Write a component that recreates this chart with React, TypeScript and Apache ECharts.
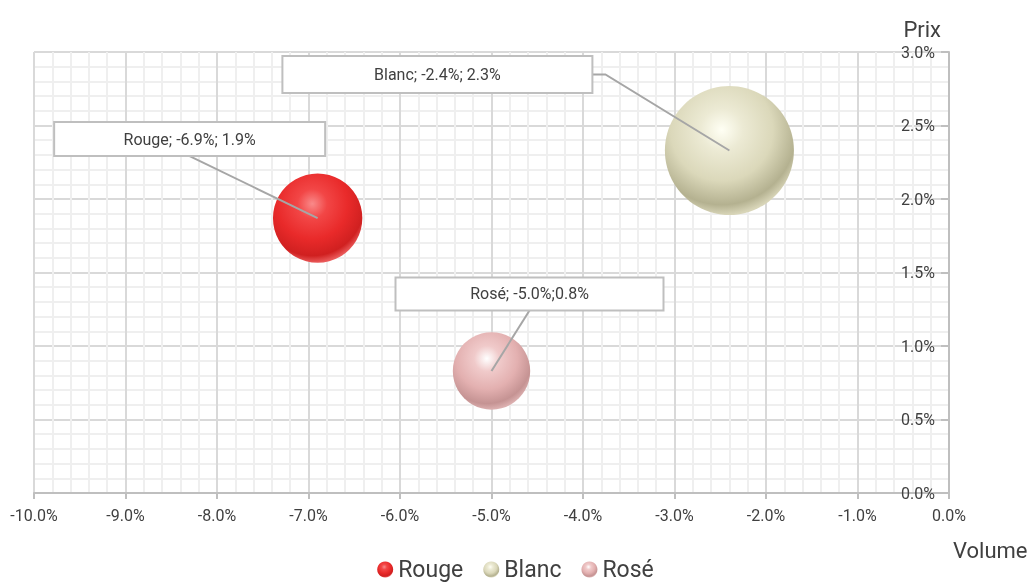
import React, { useEffect, useRef } from "react";
import * as echarts from "echarts";

const categories = ["Rouge", "Blanc", "Rosé"];
const volume = [-6.9, -2.4, -5.0];
const prix = [1.87, 2.33, 0.83];
const marketSize = [48, 100, 36];
const labelTexts = ["Rouge; -6.9%; 1.9%", "Blanc; -2.4%; 2.3%", "Rosé; -5.0%;0.8%"];

const FONT = "Roboto, 'Liberation Sans', sans-serif";

const gradients = [
  ["#f98a8a", "#f24646", "#e92a2a", "#d02020", "#ea5a5a"],
  ["#fffff4", "#ecead4", "#dbd8ba", "#b4b190", "#d8d5b8"],
  ["#ffffff", "#f0caca", "#e3b0b0", "#c59393", "#dcb0b0"],
];

// callout layout: box center offset from bubble center, box size, leader type
const callouts = [
  { dx: -128, dy: -79, w: 271, h: 34, leader: "bottom" },
  { dx: -292, dy: -76, w: 310, h: 37, leader: "right" },
  { dx: 38, dy: -77, w: 268, h: 33, leader: "bottom" },
];

const MAX_DIAM = 129;

function grad(i: number) {
  const g = gradients[i];
  return {
    type: "radial",
    x: 0.44,
    y: 0.34,
    r: 0.66,
    colorStops: [
      { offset: 0, color: g[0] },
      { offset: 0.25, color: g[1] },
      { offset: 0.6, color: g[2] },
      { offset: 0.88, color: g[3] },
      { offset: 1, color: g[4] },
    ],
  };
}

export default function App() {
  const ref = useRef<HTMLDivElement>(null);
  useEffect(() => {
    if (!ref.current) return;
    const chart = echarts.init(ref.current, null, { renderer: "svg" });
    const scatterSeries = categories.map((name, i) => ({
      name,
      type: "scatter",
      data: [[volume[i], prix[i], marketSize[i]]],
      symbolSize: (v: number[]) => MAX_DIAM * Math.sqrt(v[2] / 100),
      itemStyle: { color: grad(i), opacity: 1 },
      z: 3,
    }));
    const calloutSeries = {
      type: "custom",
      name: "callouts",
      coordinateSystem: "cartesian2d",
      z: 5,
      clip: false,
      data: categories.map((_, i) => [volume[i], prix[i], i]),
      renderItem: (params: any, api: any) => {
        const i = api.value(2);
        const c = api.coord([api.value(0), api.value(1)]);
        const co = callouts[i];
        const bx = c[0] + co.dx;
        const by = c[1] + co.dy;
        let pts: number[][];
        if (co.leader === "right") {
          pts = [
            [bx + co.w / 2, by],
            [bx + co.w / 2 + 13, by],
            [c[0], c[1]],
          ];
        } else {
          pts = [
            [bx, by + co.h / 2],
            [c[0], c[1]],
          ];
        }
        return {
          type: "group",
          children: [
            {
              type: "polyline",
              shape: { points: pts },
              style: { stroke: "#a6a6a6", lineWidth: 2, fill: null },
            },
            {
              type: "rect",
              shape: { x: bx - co.w / 2, y: by - co.h / 2, width: co.w, height: co.h },
              style: { fill: "#ffffff", stroke: "#bfbfbf", lineWidth: 2 },
            },
            {
              type: "text",
              x: bx,
              y: by,
              style: {
                text: labelTexts[i],
                fill: "#404040",
                fontSize: 16,
                fontFamily: FONT,
                align: "center",
                verticalAlign: "middle",
              },
            },
          ],
        };
      },
    };
    chart.setOption({
      animation: false,
      textStyle: { fontFamily: FONT },
      grid: { left: 34, right: 82, top: 52, bottom: 93 },
      legend: {
        data: categories,
        bottom: 0,
        left: "center",
        icon: "circle",
        itemWidth: 16,
        itemHeight: 16,
        itemGap: 20,
        textStyle: { fontSize: 23, color: "#404040", fontFamily: FONT },
      },
      xAxis: {
        type: "value",
        min: -10,
        max: 0,
        interval: 1,
        name: "Volume",
        nameLocation: "end",
        nameGap: 4,
        nameTextStyle: {
          fontSize: 22,
          color: "#404040",
          align: "left",
          verticalAlign: "top",
          padding: [46, 0, 0, 0],
          fontFamily: FONT,
        },
        axisLine: { show: true, onZero: false, lineStyle: { color: "#bfbfbf", width: 2 } },
        axisTick: { show: true, length: 6, lineStyle: { color: "#bfbfbf", width: 2 } },
        axisLabel: {
          formatter: (v: number) => v.toFixed(1) + "%",
          fontSize: 16,
          color: "#404040",
          margin: 14,
          fontFamily: FONT,
        },
        splitLine: { show: true, lineStyle: { color: "#d9d9d9", width: 2 } },
        minorTick: { show: false, splitNumber: 5 },
        minorSplitLine: { show: true, lineStyle: { color: "#efefef", width: 2 } },
      },
      yAxis: {
        type: "value",
        position: "right",
        min: 0,
        max: 3,
        interval: 0.5,
        name: "Prix",
        nameLocation: "end",
        nameGap: 12,
        nameTextStyle: {
          fontSize: 22,
          color: "#404040",
          align: "right",
          padding: [0, 8, 0, 0],
          fontFamily: FONT,
        },
        axisLine: { show: true, lineStyle: { color: "#bfbfbf", width: 2 } },
        axisTick: { show: true, inside: true, length: 8, lineStyle: { color: "#bfbfbf", width: 2 } },
        axisLabel: {
          inside: true,
          formatter: (v: number) => v.toFixed(1) + "%",
          fontSize: 16,
          color: "#404040",
          margin: 14,
          fontFamily: FONT,
        },
        splitLine: { show: true, lineStyle: { color: "#d9d9d9", width: 2 } },
        minorTick: { show: false, splitNumber: 5 },
        minorSplitLine: { show: true, lineStyle: { color: "#efefef", width: 2 } },
      },
      series: [...scatterSeries, calloutSeries],
    });
    return () => chart.dispose();
  }, []);
  return (
    <div
      ref={ref}
      style={{ position: "fixed", left: 0, top: 0, width: 1031, height: 586 }}
    />
  );
}
